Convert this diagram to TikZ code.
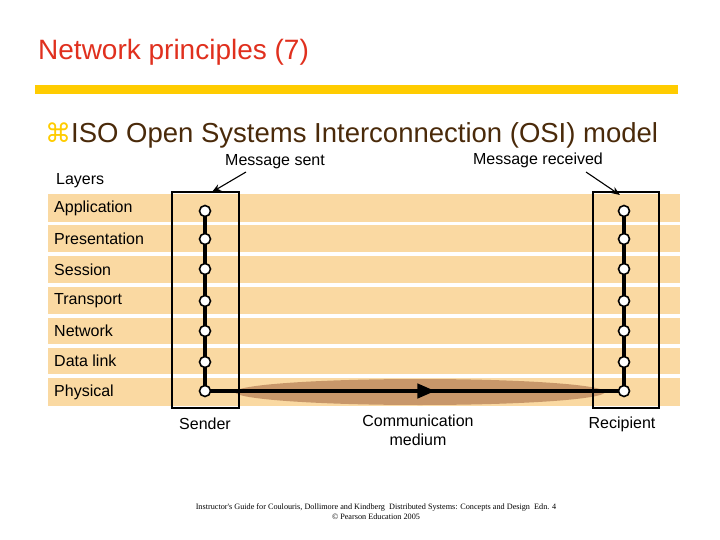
\documentclass[tikz,border=0pt]{standalone}
\usepackage{fontspec}
\setmainfont{Liberation Sans}
\newfontfamily\djv{DejaVu Sans}
\newfontfamily\ftr{Liberation Serif}
\usetikzlibrary{decorations.markings,arrows.meta}
\definecolor{band}{HTML}{FAD9A2}
\definecolor{med}{HTML}{C8976A}
\definecolor{ttl}{HTML}{E0301E}
\definecolor{ylw}{HTML}{FFCC00}
\definecolor{brn}{HTML}{4A2A0A}
\tikzset{lbl/.style={font=\fontsize{16}{19}\selectfont,inner sep=0pt},
 layer/.style={fill=band,draw=none},
 dot/.style={circle,draw,line width=1.6pt,fill=white,minimum size=11pt,inner sep=0pt},
 boxst/.style={draw,line width=1.4pt},
 ptr/.style={-{Stealth[length=9pt,width=7pt]},line width=1.1pt}}
\begin{document}
\begin{tikzpicture}[x=1pt,y=-1pt]
\useasboundingbox (0,0) rectangle (720,540);
\node[anchor=west,text=ttl,font=\fontsize{28}{32}\selectfont,inner sep=0] (title) at (38,52) {Network principles (7)};
\draw[ylw,line width=9pt] (35,90) -- (678,90);
\node[anchor=west,inner sep=0,font=\fontsize{27.5}{32}\selectfont,text=brn] (sub) at (45,135) {{\djv\color{ylw}\fontsize{26}{30}\selectfont ⌘}ISO Open Systems Interconnection (OSI) model};
\foreach \n/\a/\b/\t in {app/194/222/Application,pre/225/252/Presentation,ses/256/283/Session,tra/287/314/Transport,net/318/344/Network,dat/348/374/Data link,phy/378/406/Physical}{
  \fill[layer] (48,\a) rectangle (680,\b);
  \node[lbl,anchor=west] (l\n) at (54,{(\a+\b)/2}) {\t};
}
\node[lbl,anchor=west] (layers) at (56,181) {Layers};
\fill[med] (420,392) ellipse (185 and 13);
\node[boxst,minimum width=67pt,minimum height=216pt,inner sep=0] (sbox) at (205.5,300) {};
\node[boxst,minimum width=66pt,minimum height=216pt,inner sep=0] (rbox) at (626,300) {};
\foreach \s/\x in {s/205,r/624}{
  \foreach \i/\y in {1/211,2/239,3/269,4/301,5/331,6/362,7/391}{
    \coordinate (\s\i) at (\x,\y);
  }
  \draw[line width=4pt] (\s1) -- (\s7);
}
\draw[line width=4pt,postaction={decorate},decoration={markings,mark=at position 0.55 with {\arrow{Triangle[length=18pt,width=14pt]}}}] (s7) -- (r7);
\foreach \s in {s,r}{\foreach \i in {1,...,7}{\node[dot] at (\s\i) {};}}
\node[lbl] (ms) at (275,162) {Message sent};
\node[lbl] (mr) at (538,160) {Message received};
\coordinate (msa) at (246,172);
\coordinate (mra) at (586,172);
\draw[ptr] (msa) -- (212,192);
\draw[ptr] (mra) -- (620,195);
\node[lbl] (snd) at (205,424) {Sender};
\node[lbl,align=center] (cm) at (418,430) {Communication\\medium};
\node[lbl] (rcp) at (622,424) {Recipient};
\node[font=\ftr\fontsize{8.2}{10}\selectfont,align=center] (ft) at (376,512) {Instructor's Guide for Coulouris, Dollimore and Kindberg \ Distributed Systems: Concepts and Design \ Edn. 4\\© Pearson Education 2005};
\end{tikzpicture}
\end{document}
